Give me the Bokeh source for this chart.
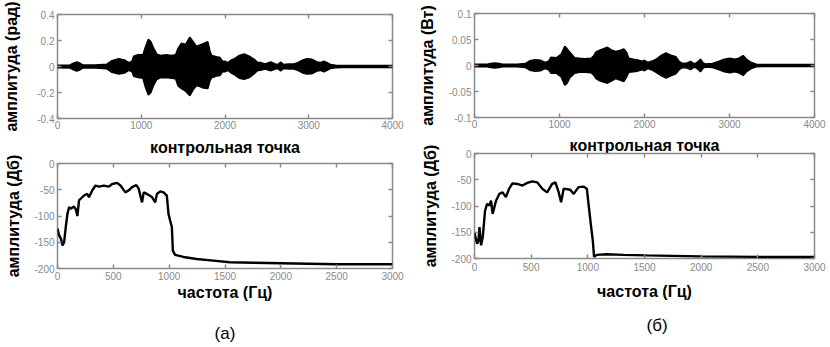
from bokeh.plotting import figure
from bokeh.layouts import row, column
from bokeh.models import (Range1d, LinearAxis, FixedTicker, Title, ColumnDataSource,
                          CustomLabelingPolicy)
from bokeh.embed import file_html
from bokeh.resources import INLINE

# ---------------- data ----------------
# (а) top: envelope of the dense signal (rad)
tl_x = [0, 150, 190, 230, 270, 300, 450, 590, 650, 730, 800, 850,
        890, 910, 960, 1020, 1050, 1085, 1115, 1145, 1185, 1230, 1300, 1360,
        1410, 1440, 1480, 1530, 1580, 1620, 1660, 1700, 1740, 1795, 1820, 1840,
        1900, 1940, 1970, 2000, 2035, 2075, 2115, 2170, 2230, 2290, 2350, 2390,
        2430, 2480, 2545, 2600, 2630, 2665, 2700, 2760, 2820, 2870, 2930, 2980,
        3040, 3100, 3140, 3180, 3220, 3260, 3320, 3400, 4000]
tl_upper = [0.01, 0.012, 0.025, 0.035, 0.025, 0.012, 0.012, 0.018, 0.045, 0.06, 0.05, 0.03,
            0.04, 0.08, 0.09, 0.09, 0.15, 0.21, 0.19, 0.145, 0.095, 0.085, 0.09, 0.085,
            0.09, 0.14, 0.18, 0.17, 0.225, 0.19, 0.155, 0.165, 0.175, 0.19, 0.12, 0.085,
            0.075, 0.07, 0.04, 0.04, 0.03, 0.05, 0.06, 0.085, 0.096, 0.08, 0.055, 0.03,
            0.03, 0.02, 0.035, 0.02, 0.015, 0.035, 0.015, 0.02, 0.02, 0.03, 0.05, 0.06,
            0.055, 0.035, 0.03, 0.04, 0.03, 0.015, 0.01, 0.008, 0.008]
tl_lower = [-0.01, -0.012, -0.025, -0.035, -0.025, -0.012, -0.012, -0.018, -0.045, -0.058, -0.05, -0.03,
            -0.04, -0.075, -0.085, -0.09, -0.16, -0.22, -0.2, -0.15, -0.1, -0.086, -0.085, -0.09,
            -0.095, -0.15, -0.17, -0.19, -0.225, -0.18, -0.147, -0.155, -0.165, -0.17, -0.11, -0.086,
            -0.074, -0.07, -0.04, -0.04, -0.03, -0.05, -0.065, -0.09, -0.098, -0.085, -0.055, -0.03,
            -0.028, -0.02, -0.033, -0.02, -0.015, -0.035, -0.015, -0.02, -0.02, -0.03, -0.05, -0.058,
            -0.055, -0.035, -0.03, -0.04, -0.03, -0.015, -0.01, -0.008, -0.008]

# (б) top: envelope of the dense signal (W)
tr_x = [0, 150, 190, 240, 290, 330, 500, 600, 650, 714, 780, 830,
        870, 900, 965, 1020, 1062, 1090, 1120, 1178, 1236, 1300, 1371, 1400,
        1429, 1480, 1564, 1610, 1660, 1710, 1757, 1790, 1815, 1870, 1911, 1969,
        2000, 2040, 2080, 2137, 2200, 2253, 2310, 2369, 2408, 2446, 2500, 2543,
        2575, 2601, 2635, 2659, 2690, 2717, 2800, 2871, 2940, 3006, 3060, 3110,
        3161, 3200, 3257, 3315, 3400, 4000]
tr_upper = [0.0022, 0.0025, 0.004, 0.005, 0.004, 0.0025, 0.0025, 0.004, 0.009, 0.011, 0.01, 0.006,
            0.008, 0.016, 0.015, 0.022, 0.037, 0.032, 0.026, 0.015, 0.014, 0.013, 0.014, 0.018,
            0.026, 0.03, 0.035, 0.03, 0.027, 0.029, 0.032, 0.025, 0.014, 0.012, 0.011, 0.008,
            0.01, 0.006, 0.008, 0.012, 0.02, 0.024, 0.02, 0.017, 0.008, 0.004, 0.005, 0.008,
            0.004, 0.004, 0.008, 0.012, 0.005, 0.003, 0.004, 0.008, 0.012, 0.014, 0.012, 0.014,
            0.019, 0.012, 0.006, 0.0025, 0.002, 0.002]
tr_lower = [-0.0022, -0.0025, -0.004, -0.005, -0.004, -0.0025, -0.0025, -0.004, -0.009, -0.011, -0.01, -0.006,
            -0.008, -0.015, -0.015, -0.022, -0.038, -0.034, -0.024, -0.015, -0.013, -0.013, -0.014, -0.018,
            -0.025, -0.03, -0.034, -0.03, -0.025, -0.028, -0.031, -0.022, -0.013, -0.012, -0.011, -0.008,
            -0.01, -0.006, -0.008, -0.013, -0.02, -0.024, -0.02, -0.016, -0.008, -0.004, -0.005, -0.008,
            -0.004, -0.004, -0.008, -0.012, -0.005, -0.003, -0.004, -0.008, -0.012, -0.014, -0.012, -0.014,
            -0.019, -0.012, -0.006, -0.0025, -0.002, -0.002]

# (а) bottom: spectrum (dB)
bl_f = [0, 15, 30, 45, 59, 74, 89, 104, 119, 148,
        165, 178, 193, 237, 267, 282, 312, 341, 371, 415,
        460, 490, 534, 564, 608, 638, 668, 706, 727, 757,
        772, 801, 846, 875, 890, 920, 950, 979, 994, 1009,
        1024, 1033, 1053, 1128, 1246, 1395, 1543, 1750, 2000, 2250,
        2500, 2750, 3000]
bl_db = [-124, -137, -143, -156, -150, -121, -96, -83, -86, -82,
         -88, -100, -70, -61, -58, -64, -51, -42, -44, -42,
         -44, -39, -37, -42, -55, -51, -45, -41, -48, -74,
         -55, -58, -64, -74, -58, -53, -55, -61, -96, -109,
         -121, -166, -174, -178, -182, -185, -188, -189, -190, -191,
         -192, -192, -192]

# (б) bottom: spectrum (dB)
br_f = [0, 9, 23, 35, 44, 58, 73, 93, 111, 131,
        146, 160, 190, 219, 248, 277, 306, 335, 379, 423,
        466, 510, 554, 598, 641, 685, 714, 743, 764, 787,
        845, 875, 918, 962, 991, 1006, 1026, 1044, 1055, 1079,
        1166, 1312, 1516, 1750, 2000, 2500, 3000]
br_db = [-150, -159, -172, -166, -140, -175, -159, -109, -96, -99,
         -90, -115, -90, -77, -74, -83, -67, -57, -58, -61,
         -56, -53, -55, -67, -74, -58, -55, -74, -93, -67,
         -69, -77, -64, -63, -67, -96, -134, -166, -197, -193,
         -192, -193, -194, -195, -196, -197, -197]

# ticks and labels
sig_xticks = [0, 1000, 2000, 3000, 4000]
spec_xticks = [0, 500, 1000, 1500, 2000, 2500, 3000]
tl_yticks = [-0.4, -0.2, 0, 0.2, 0.4]
tl_ylabels = ["-0.4", "-0.2", "0", "0.2", "0.4"]
tr_yticks = [-0.1, -0.05, 0, 0.05, 0.1]
tr_ylabels = ["-0.1", "-0.05", "0", "0.05", "0.1"]
spec_yticks = [-200, -150, -100, -50, 0]
spec_ylabels = ["-200", "-150", "-100", "-50", "0"]

GRAY = "#8a8a8a"
FONT = "Liberation Sans"


def hide_labels(ax):
    ax.major_label_text_font_size = "0px"
    ax.major_label_standoff = 0
    ax.major_label_policy = CustomLabelingPolicy(code="return []")


def make_fig(width, height, borders, xr, yr, xticks, yticks, ylabels, xlabel, ylabel,
             ylab_standoff, xtick_standoff, xlab_standoff, transparent=False, margin=None):
    left, right, top, bottom = borders
    kw = {}
    if margin is not None:
        kw["margin"] = margin
    p = figure(width=width, height=height, x_range=Range1d(*xr), y_range=Range1d(*yr),
               output_backend="svg", toolbar_location=None, tools="",
               min_border_left=left, min_border_right=right,
               min_border_top=top, min_border_bottom=bottom, **kw)
    p.xgrid.visible = False
    p.ygrid.visible = False
    p.background_fill_color = "white"
    p.border_fill_color = "white"
    if transparent:
        p.border_fill_alpha = 0
    p.outline_line_color = GRAY
    p.outline_line_width = 1.5
    p.add_layout(LinearAxis(), "above")
    p.add_layout(LinearAxis(), "right")
    for ax in p.xaxis:
        ax.ticker = FixedTicker(ticks=xticks)
    for ax in p.yaxis:
        ax.ticker = FixedTicker(ticks=yticks)
        ax.major_label_overrides = {t: s for t, s in zip(yticks, ylabels)}
    for ax in p.axis:
        ax.axis_line_color = None
        ax.major_tick_in = 4
        ax.major_tick_out = 0
        ax.major_tick_line_color = GRAY
        ax.major_tick_line_width = 1.5
        ax.minor_tick_line_color = None
        ax.major_label_text_color = GRAY
        ax.major_label_text_font = FONT
        ax.major_label_text_font_size = "10px"
    # top / right axes: tick marks only, no labels
    for ax in p.above + p.right:
        if isinstance(ax, LinearAxis):
            hide_labels(ax)
    bx = p.below[0]
    bx.major_label_standoff = xtick_standoff
    bx.axis_label = xlabel
    bx.axis_label_standoff = xlab_standoff
    ly = p.left[0]
    ly.major_label_standoff = 3
    ly.axis_label = ylabel
    ly.axis_label_standoff = ylab_standoff
    for ax in (bx, ly):
        ax.axis_label_text_font = FONT
        ax.axis_label_text_font_style = "bold"
        ax.axis_label_text_font_size = "16px"
        ax.axis_label_text_color = "black"
    return p


def draw_envelope(p, x, lo, hi):
    src = ColumnDataSource(dict(x=x, lo=lo, hi=hi))
    p.varea(x="x", y1="lo", y2="hi", fill_color="black", source=src)
    p.line(x="x", y="hi", line_color="black", line_width=1.5, source=src)
    p.line(x="x", y="lo", line_color="black", line_width=1.5, source=src)


def caption_axis(p, text, standoff):
    # an extra, tick-less axis below the plot that only carries the panel caption
    ax = LinearAxis(ticker=FixedTicker(ticks=[]), axis_label=text,
                    axis_label_standoff=standoff, axis_line_color=None,
                    major_tick_in=0, major_tick_out=0, minor_tick_line_color=None,
                    major_tick_line_color=None,
                    axis_label_text_font=FONT, axis_label_text_font_size="17px",
                    axis_label_text_font_style="normal", axis_label_text_color="black")
    hide_labels(ax)
    p.add_layout(ax, "below")


def caption_title(p, text, offset, standoff):
    t = Title(text=text, align="left", offset=offset, text_font=FONT,
              text_font_size="17px", text_font_style="normal", text_color="black")
    if "standoff" in Title.properties():
        t.standoff = standoff
    p.add_layout(t, "below")


# (а) top: canvas 0..158
p_tl = make_fig(415, 158, (55, 22, 14, 39), (0, 4000), (-0.4, 0.4), sig_xticks,
                tl_yticks, tl_ylabels, "контрольная точка", "амплитуда (рад)", 14, 2, 7)
draw_envelope(p_tl, tl_x, tl_lower, tl_upper)

# (а) bottom: canvas 150..347 (overlaps the top one by 8 px, transparent border)
p_bl = make_fig(415, 197, (55, 23, 13, 79), (0, 3000), (-200, 0), spec_xticks,
                spec_yticks, spec_ylabels, "частота (Гц)", "амплитуда (Дб)", 9, 3, 1,
                transparent=True, margin=(-8, 0, 0, 0))
p_bl.line(x=bl_f, y=bl_db, line_color="black", line_width=2.4)
caption_axis(p_bl, "(а)", 20)

# (б) top: canvas 0..156
p_tr = make_fig(415, 156, (59, 11, 13, 39), (0, 4000), (-0.1, 0.1), sig_xticks,
                tr_yticks, tr_ylabels, "контрольная точка", "амплитуда (Вт)", 10, 2, 6)
draw_envelope(p_tr, tr_x, tr_lower, tr_upper)

# (б) bottom: canvas 142..347
p_br = make_fig(415, 205, (56, 16, 11, 89), (0, 3000), (-200, 0), spec_xticks,
                spec_yticks, spec_ylabels, "частота (Гц)", "амплитуда (Дб)", 9, 4, 9,
                transparent=True, margin=(-14, 0, 0, 0))
p_br.line(x=br_f, y=br_db, line_color="black", line_width=2.4)
caption_title(p_br, "(б)", 172, 23)

layout = row(column(p_tl, p_bl), column(p_tr, p_br))

with open("out.html", "w") as f:
    f.write(file_html(layout, INLINE))
